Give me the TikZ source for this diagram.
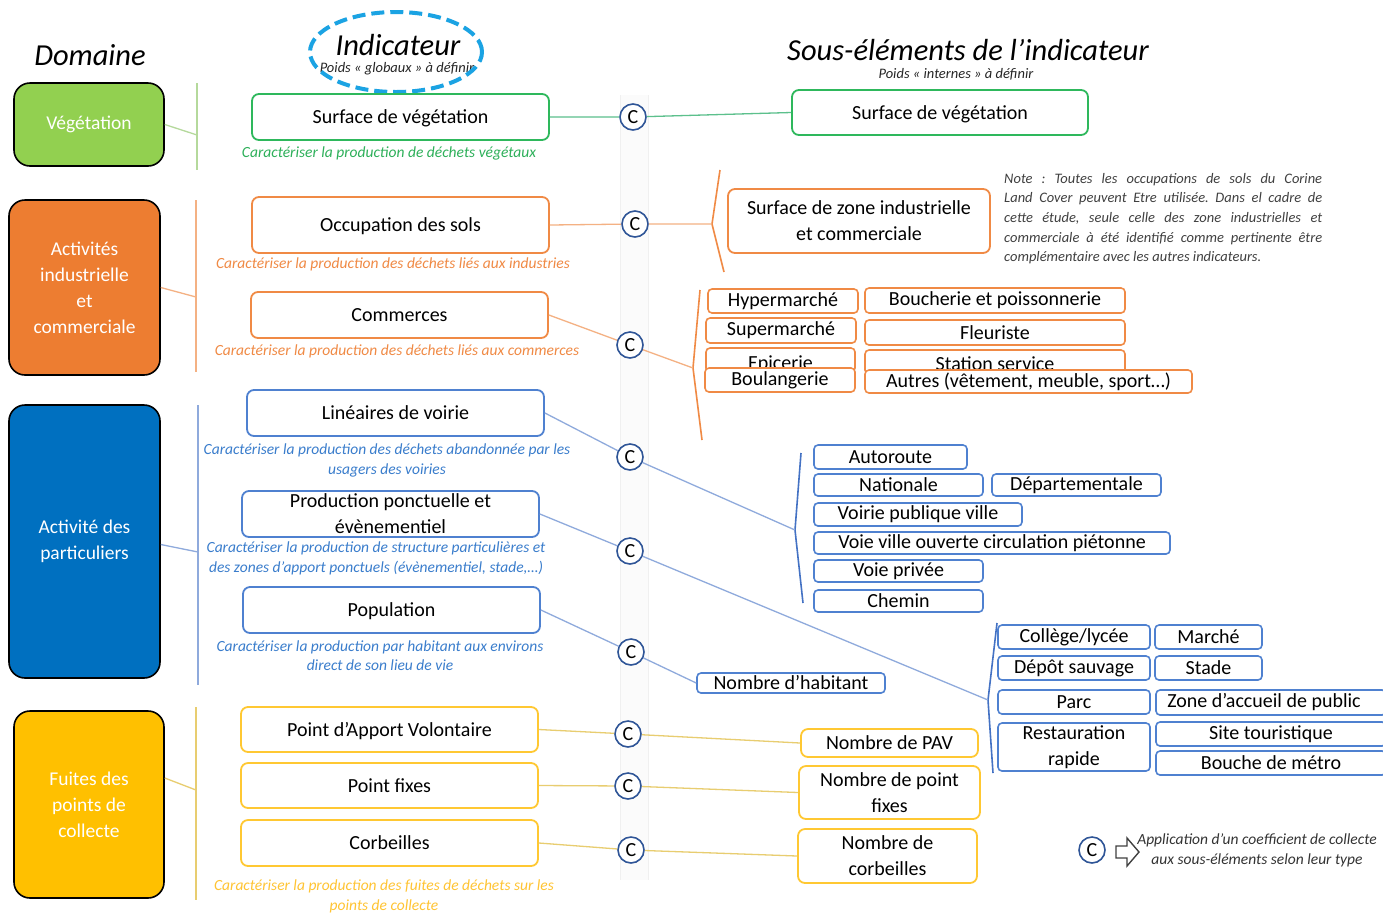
\documentclass[tikz,border=0pt]{standalone}
\usepackage{fontspec}
\setmainfont{Carlito}
\usetikzlibrary{shapes.geometric}
\definecolor{vegfill}{HTML}{92D050}
\definecolor{vegline}{HTML}{B5D99C}
\definecolor{vegbox}{HTML}{2EB85C}
\definecolor{vegcap}{HTML}{2EB05A}
\definecolor{vegconn}{HTML}{5CC08C}
\definecolor{orfill}{HTML}{ED7D31}
\definecolor{orbox}{HTML}{F08A45}
\definecolor{orcap}{HTML}{F08A45}
\definecolor{orline}{HTML}{F4B183}
\definecolor{blfill}{HTML}{0070C0}
\definecolor{blbox}{HTML}{4F81D0}
\definecolor{blcap}{HTML}{3A7DCC}
\definecolor{blline}{HTML}{8FAADC}
\definecolor{blbrk}{HTML}{4472C4}
\definecolor{yefill}{HTML}{FFC000}
\definecolor{yebox}{HTML}{FFC832}
\definecolor{yecap}{HTML}{FFC433}
\definecolor{yeline}{HTML}{E8CD70}
\definecolor{cblue}{HTML}{2F5597}
\definecolor{ellcol}{HTML}{1BA3E3}
\definecolor{notegray}{HTML}{404040}
\newcommand\fDom{\fontsize{19.5}{26}\selectfont}
\newcommand\fBx{\fontsize{20}{26}\selectfont}
\newcommand\fCap{\fontsize{15.5}{19.5}\selectfont\itshape}
\newcommand\fTit{\fontsize{30.5}{34}\selectfont\itshape}
\newcommand\fSmall{\fontsize{14.5}{16}\selectfont\itshape}
\newcommand\fNote{\fontsize{14.5}{19.6}\selectfont\itshape}
\frenchspacing
\begin{document}
\begin{tikzpicture}[x=1pt,y=-1pt,
  dom/.style={draw=black, line width=1.6pt, rounded corners=16pt, text=white, font=\fDom, align=center, inner sep=0pt},
  ibox/.style={draw=#1, fill=white, line width=1.8pt, rounded corners=7pt, font=\fBx, text=black, align=center, inner sep=0pt, text depth=0pt},
  sbox/.style={draw=#1, fill=white, line width=1.6pt, rounded corners=4pt, font=\fBx, text=black, align=center, inner sep=0pt},
  cap/.style={text=#1, font=\fCap, align=center, inner sep=0pt},
  cc/.style={circle, draw=cblue, line width=1.6pt, fill=white, minimum size=26pt, inner sep=0pt, font=\fBx, text=black},
  conn/.style={draw=#1, line width=1.3pt},
  brk/.style={draw=#1, line width=1.6pt},
]
\useasboundingbox (0,0) rectangle (1383,914);
\clip (0,0) rectangle (1383,914);
\fill[white] (0,0) rectangle (1383,914);

% faint band
\fill[gray!3] (620,95) rectangle (648,880);
\draw[gray!12, line width=0.6pt] (620,95) -- (620,880) (648,95) -- (648,880);

% titles
\node[font=\fTit, text=black] (tdom) at (90,55) {Domaine};
\node[font=\fTit, text=black] (tind) at (398,45) {Indicateur};
\node[font=\fSmall, text=black!85] (tindp) at (397,69) {Poids « globaux » à définir};
\node[draw=ellcol, ellipse, dash pattern=on 13pt off 6pt, line width=4pt, minimum width=172pt, minimum height=80pt] (ell) at (396,52) {};
\node[font=\fTit, text=black] (tsous) at (968,50.5) {Sous-éléments de l’indicateur};
\node[font=\fSmall, text=black!85] (tsousp) at (956,74.5) {Poids « internes » à définir};

% domains
\node[dom, fill=vegfill, minimum width=150pt, minimum height=83pt] (dveg) at (89,124.5) {Végétation};
\node[dom, fill=orfill, minimum width=151pt, minimum height=175pt] (dind) at (84.5,287.5) {Activités\\industrielle\\et\\commerciale};
\node[dom, fill=blfill, minimum width=151pt, minimum height=273pt] (dpar) at (84.5,541.5) {Activité des\\particuliers};
\node[dom, fill=yefill, minimum width=150pt, minimum height=187pt] (dfui) at (89,804.5) {Fuites des\\points de\\collecte};

% domain vertical lines and joins
\draw[conn=vegline] (197,83) -- (197,170);
\draw[conn=orline] (196,200) -- (196,372);
\draw[conn=blline] (198,405) -- (198,685);
\draw[conn=yeline] (196,707) -- (196,900);
\coordinate (jveg) at (197,135);
\coordinate (jind) at (196,297);
\coordinate (jpar) at (198,552);
\coordinate (jfui) at (196,790);
\draw[conn=vegline] (dveg.east) -- (jveg);
\draw[conn=orline] (dind.east) -- (jind);
\draw[conn=blline] ([yshift=-3pt]dpar.east) -- (jpar);
\draw[conn=yeline] ([yshift=26.5pt]dfui.east) -- (jfui);

% indicator boxes
\node[ibox=vegbox, minimum width=297pt, minimum height=46pt] (iveg) at (400.5,117) {Surface de végétation};
\node[ibox=orbox, minimum width=297pt, minimum height=56pt] (iocc) at (400.5,225) {Occupation des sols};
\node[ibox=orbox, minimum width=297pt, minimum height=46pt] (icom) at (399.5,315) {Commerces};
\node[ibox=blbox, minimum width=297pt, minimum height=46pt] (ilin) at (395.5,413) {Linéaires de voirie};
\node[ibox=blbox, minimum width=297pt, minimum height=46pt] (ipro) at (390.5,514) {Production ponctuelle et\\évènementiel};
\node[ibox=blbox, minimum width=297pt, minimum height=46pt] (ipop) at (391.5,610) {Population};
\node[ibox=yebox, minimum width=297pt, minimum height=45pt] (ipav) at (389.5,729.5) {Point d’Apport Volontaire};
\node[ibox=yebox, minimum width=297pt, minimum height=45pt] (ifix) at (389.5,785.5) {Point fixes};
\node[ibox=yebox, minimum width=297pt, minimum height=46pt] (icor) at (389.5,843) {Corbeilles};

% captions
\node[cap=vegcap] (cveg) at (389,153) {Caractériser la production de déchets végétaux};
\node[cap=orcap] (cocc) at (393,264) {Caractériser la production des déchets liés aux industries};
\node[cap=orcap] (ccom) at (397,351) {Caractériser la production des déchets liés aux commerces};
\node[cap=blcap] (clin) at (387,460.5) {Caractériser la production des déchets abandonnée par les\\usagers des voiries};
\node[cap=blcap] (cpro) at (376,558.5) {Caractériser la production de structure particulières et\\des zones d’apport ponctuels (évènementiel, stade,…)};
\node[cap=blcap] (cpop) at (380,655.5) {Caractériser la production par habitant aux environs\\direct de son lieu de vie};
\node[cap=yecap] (cfui) at (384,896.5) {Caractériser la production des fuites de déchets sur les\\points de collecte};

% C nodes
\node[cc] (c1) at (633,117) {C};
\node[cc] (c2) at (635,224) {C};
\node[cc] (c3) at (630,345) {C};
\node[cc] (c4) at (630,457) {C};
\node[cc] (c5) at (630,551) {C};
\node[cc] (c6) at (631,652) {C};
\node[cc] (c7) at (628,734) {C};
\node[cc] (c8) at (628,786) {C};
\node[cc] (c9) at (631,850) {C};

% sub-elements
\node[ibox=vegbox, minimum width=296pt, minimum height=45pt] (sveg) at (940,112.5) {Surface de végétation};
\node[ibox=orbox, minimum width=262pt, minimum height=64pt] (szone) at (859,221) {Surface de zone industrielle\\et commerciale};

\node[anchor=north west, inner sep=0pt, font=\fNote, text=notegray, align=left] (note) at (1004,173) {%
\makebox[318pt][s]{Note : Toutes les occupations de sols du Corine}\\
\makebox[318pt][s]{Land Cover peuvent Etre utilisée. Dans el cadre de}\\
\makebox[318pt][s]{cette étude, seule celle des zone industrielles et}\\
\makebox[318pt][s]{commerciale à été identifié comme pertinente être}\\
complémentaire avec les autres indicateurs.};

% commerce list
\node[sbox=orbox, minimum width=150pt, minimum height=24pt] (hyper) at (783,301) {Hypermarché};
\node[sbox=orbox, minimum width=150pt, minimum height=25pt] (super) at (781,330.5) {Supermarché};
\node[sbox=orbox, minimum width=149pt, minimum height=24pt] (epic) at (780.5,360) {\raisebox{-4pt}[10pt][0pt]{Epicerie}};
\node[sbox=orbox, minimum width=150pt, minimum height=24pt] (boul) at (780,380) {Boulangerie};
\node[sbox=orbox, minimum width=260pt, minimum height=25pt] (bouch) at (995,300.5) {Boucherie et poissonnerie};
\node[sbox=orbox, minimum width=260pt, minimum height=25pt] (fleur) at (995,332.5) {Fleuriste};
\node[sbox=orbox, minimum width=260pt, minimum height=24pt] (stat) at (995,362) {\raisebox{-3pt}[10pt][0pt]{Station service}};
\node[sbox=orbox, minimum width=327pt, minimum height=23pt] (autres) at (1028.5,381.5) {Autres (vêtement, meuble, sport…)};

% voirie list
\node[sbox=blbox, minimum width=153pt, minimum height=24pt] (auto) at (890.5,457) {Autoroute};
\node[sbox=blbox, minimum width=169pt, minimum height=22pt] (nat) at (898.5,485) {Nationale};
\node[sbox=blbox, minimum width=169pt, minimum height=22pt] (depa) at (1076.5,485) {Départementale};
\node[sbox=blbox, minimum width=208pt, minimum height=23pt] (vpv) at (918,514.5) {Voirie publique ville};
\node[sbox=blbox, minimum width=356pt, minimum height=22pt] (vvo) at (992,543) {Voie ville ouverte circulation piétonne};
\node[sbox=blbox, minimum width=169pt, minimum height=22pt] (vpr) at (898.5,571) {Voie privée};
\node[sbox=blbox, minimum width=169pt, minimum height=22pt] (chem) at (898.5,601) {Chemin};

% production list
\node[sbox=blbox, minimum width=152pt, minimum height=24pt] (col) at (1074,637) {Collège/lycée};
\node[sbox=blbox, minimum width=107pt, minimum height=24pt] (mar) at (1208.5,637) {Marché};
\node[sbox=blbox, minimum width=152pt, minimum height=24pt] (depo) at (1074,668) {Dépôt sauvage};
\node[sbox=blbox, minimum width=107pt, minimum height=24pt] (stade) at (1208.5,668) {Stade};
\node[sbox=blbox, minimum width=152pt, minimum height=24pt] (parc) at (1074,702) {Parc};
\node[sbox=blbox, minimum width=230pt, minimum height=25pt] (zone) at (1271,702.5) {\hspace*{-14pt}Zone d’accueil de public};
\node[sbox=blbox, minimum width=152pt, minimum height=48pt] (rest) at (1074,747) {Restauration\\rapide};
\node[sbox=blbox, minimum width=230pt, minimum height=24pt] (site) at (1271,734) {Site touristique};
\node[sbox=blbox, minimum width=230pt, minimum height=24pt] (bouche) at (1271,763) {Bouche de métro};

% other sub-elements
\node[sbox=blbox, minimum width=188pt, minimum height=20pt] (nhab) at (791,683) {Nombre d’habitant};
\node[ibox=yebox, minimum width=177pt, minimum height=28pt] (npav) at (889.5,743) {Nombre de PAV};
\node[ibox=yebox, minimum width=181pt, minimum height=53pt] (nfix) at (889.5,792.5) {Nombre de point\\fixes};
\node[ibox=yebox, minimum width=179pt, minimum height=54pt] (ncor) at (887.5,856) {Nombre de\\corbeilles};

% bracket apexes
\coordinate (bzone) at (712,224);
\coordinate (bcom) at (693,368);
\coordinate (bvoi) at (795,530);
\coordinate (bpro) at (988,700);
\draw[brk=orbox] (720,170) -- (bzone) -- (724,272);
\draw[brk=orbox] (700,290) -- (bcom) -- (702,440);
\draw[brk=blbrk] (801,453) -- (bvoi) -- (803,603);
\draw[brk=blbrk] (997,623) -- (bpro) -- (993,773);

% connectors
\draw[conn=vegconn] (iveg.east) -- (c1) -- (sveg.west);
\draw[conn=orline] (iocc.east) -- (c2) -- (bzone);
\draw[conn=orline] (icom.east) -- (c3) -- (bcom);
\draw[conn=blline] (ilin.east) -- (c4) -- (bvoi);
\draw[conn=blline] (ipro.east) -- (c5) -- (bpro);
\draw[conn=blline] (ipop.east) -- (c6) -- (nhab.west);
\draw[conn=yeline] (ipav.east) -- (c7) -- (npav.west);
\draw[conn=yeline] (ifix.east) -- (c8) -- (nfix.west);
\draw[conn=yeline] (icor.east) -- (c9) -- (ncor.west);

% legend
\node[cc] (cleg) at (1092,850) {C};
\draw[line width=1.4pt, draw=black!75, fill=white, line join=miter] (1116,846) -- (1127,846) -- (1127,838) -- (1139,852) -- (1127,866) -- (1127,858) -- (1116,858) -- cycle;
\node[cap=black!80] (legt) at (1257,850.5) {Application d’un coefficient de collecte\\aux sous-éléments selon leur type};
\end{tikzpicture}
\end{document}
